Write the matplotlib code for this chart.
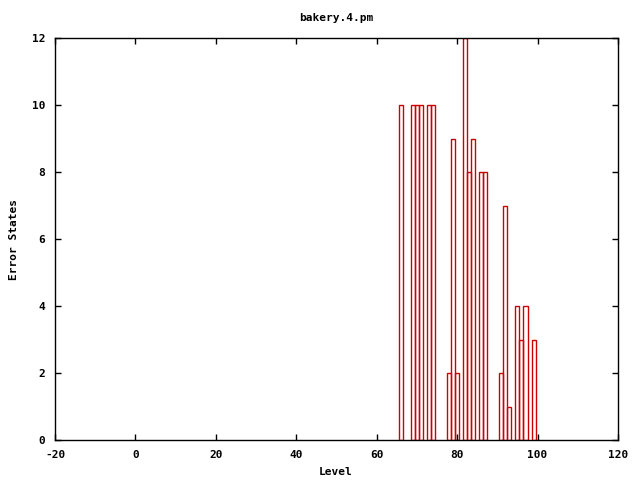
import matplotlib
matplotlib.use("Agg")
import matplotlib.pyplot as plt

levels = [66, 69, 70, 71, 73, 74, 78, 79, 80, 82, 83, 84, 86, 87, 91, 92, 93, 95, 96, 97, 99]
error_states = [10, 10, 10, 10, 10, 10, 2, 9, 2, 12, 8, 9, 8, 8, 2, 7, 1, 4, 3, 4, 3]
xticks = [-20, 0, 20, 40, 60, 80, 100, 120]
yticks = [0, 2, 4, 6, 8, 10, 12]

font = {"family": "DejaVu Sans Mono", "weight": "bold", "size": 8}

fig = plt.figure(figsize=(6.4, 4.8), dpi=100)
ax = fig.add_axes([55/640, 40/480, (618-55)/640, (440-38)/480])
ax.bar(levels, error_states, width=1.0, fill=False, edgecolor="#cc0000", linewidth=1.0)
ax.set_xlim(-20, 120)
ax.set_ylim(0, 12)
ax.set_xticks(xticks)
ax.set_yticks(yticks)
ax.set_xticklabels([str(t) for t in xticks], fontdict=font)
ax.set_yticklabels([str(t) for t in yticks], fontdict=font)
ax.tick_params(direction="in", length=4, width=1, top=True, right=True, pad=7)
for s in ax.spines.values():
    s.set_linewidth(1)
    s.set_color("black")
fig.text(336/640, 1 - 472/480, "Level", ha="center", va="center", **font)
fig.text(14/640, 1 - 239/480, "Error States", ha="center", va="center", rotation=90, **font)
fig.text(336/640, 1 - 18/480, "bakery.4.pm", ha="center", va="center", **font)
fig.savefig("out.png", dpi=100)
